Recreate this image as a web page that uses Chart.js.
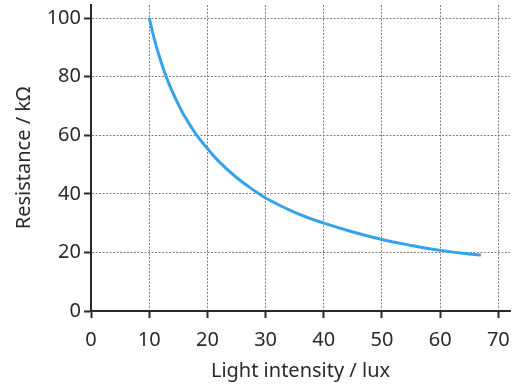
<!DOCTYPE html>
<html>
<head>
<meta charset="utf-8">
<script src="https://cdn.jsdelivr.net/npm/chart.js@4/dist/chart.umd.min.js"></script>
<style>
  html, body { margin: 0; padding: 0; background: #fff; }
  canvas { display: block; }
</style>
</head>
<body>
<canvas id="grafico" width="521" height="391"></canvas>
<script>
// light intensity (lux) and resistance (kOhm)
const lux = [10, 11, 12, 13, 14, 15, 16, 18, 20, 22, 25, 28, 30, 35, 40, 45, 50, 55, 60, 65, 67]
const resistencia = [100, 92, 85.3, 79.6, 74.8, 70.6, 66.8, 60.5, 55.5, 51, 45.6, 41.2, 38.6, 33.7, 30, 27, 24.4, 22.4, 20.7, 19.5, 19.1]

const xTicks = [0, 10, 20, 30, 40, 50, 60, 70]
const yTicks = [0, 20, 40, 60, 80, 100]

const pontos = lux.map((x, i) => ({ x: x, y: resistencia[i] }))

const corTexto = '#2a2a2a'
const corGrade = '#86817c'
const fonte = { family: 'Noto Sans', size: 20 }

function soTicks(lista) {
  return function (scale) {
    scale.ticks = lista.map(v => ({ value: v }))
  }
}

new Chart(document.getElementById('grafico'), {
  type: 'line',
  data: {
    datasets: [{
      data: pontos,
      borderColor: '#35a2ec',
      borderWidth: 3,
      pointRadius: 0,
      fill: false,
      tension: 0.4
    }]
  },
  options: {
    responsive: false,
    animation: false,
    layout: { padding: { left: 0, right: 11, top: 5, bottom: 0 } },
    plugins: { legend: { display: false }, tooltip: { enabled: false } },
    scales: {
      x: {
        type: 'linear',
        min: 0,
        max: 72,
        afterBuildTicks: soTicks(xTicks),
        afterFit: function (scale) { scale.height = 80; scale.paddingRight = 0 },
        ticks: { color: corTexto, font: fonte, padding: 10, maxRotation: 0 },
        grid: { color: corGrade, lineWidth: 1, tickColor: corTexto, tickLength: 7, tickWidth: 2, tickBorderDash: [] },
        border: { color: corTexto, width: 2, dash: [2, 1.5] },
        title: { display: true, text: 'Light intensity / lux', color: corTexto, font: fonte, padding: { top: 4, bottom: 8 } }
      },
      y: {
        type: 'linear',
        min: 0,
        max: 104.5,
        afterBuildTicks: soTicks(yTicks),
        afterFit: function (scale) { scale.width = 91; scale.paddingTop = 0; scale.paddingBottom = 0 },
        ticks: { color: corTexto, font: fonte, padding: 3 },
        grid: { color: corGrade, lineWidth: 1, tickColor: corTexto, tickLength: 7, tickWidth: 2, tickBorderDash: [] },
        border: { color: corTexto, width: 2, dash: [2, 1.5] },
        title: { display: true, text: 'Resistance / kΩ', color: corTexto, font: fonte, padding: { top: 12, bottom: 4 } }
      }
    }
  }
})
</script>
</body>
</html>
